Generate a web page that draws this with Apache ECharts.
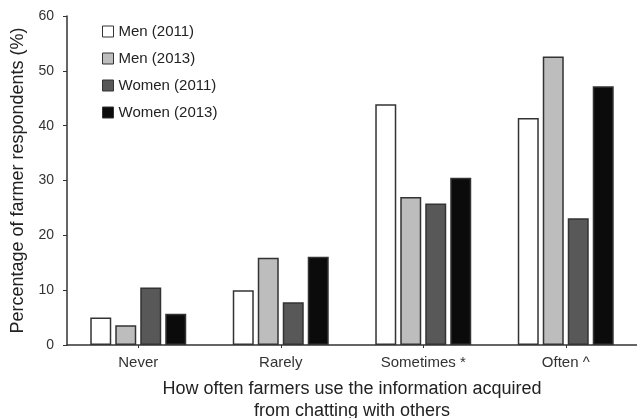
<!DOCTYPE html>
<html><head><meta charset="utf-8">
<script src="https://cdn.jsdelivr.net/npm/echarts@6/dist/echarts.min.js"></script>
<style>html,body{margin:0;padding:0;background:#fff}#c{width:637px;height:418px}</style>
</head><body><div id="c"></div>
<script>
const categories = ["Never", "Rarely", "Sometimes *", "Often ^"];
const men2011 = [5.0, 10.0, 43.9, 41.4];
const men2013 = [3.6, 15.9, 27.0, 52.6];
const women2011 = [10.5, 7.8, 25.8, 23.1];
const women2013 = [5.7, 16.1, 30.5, 47.2];
const yTicks = [0, 10, 20, 30, 40, 50, 60];

const seriesDefs = [
  {name: "Men (2011)", data: men2011, color: "#ffffff"},
  {name: "Men (2013)", data: men2013, color: "#bdbdbd"},
  {name: "Women (2011)", data: women2011, color: "#585858"},
  {name: "Women (2013)", data: women2013, color: "#0b0b0b"}
];
const font = "Liberation Sans, Arial, Helvetica, sans-serif";
const chart = echarts.init(document.getElementById('c'));
chart.setOption({
  animation: false,
  grid: {left: 67, right: 0, top: 16, bottom: 73, containLabel: false, outerBoundsMode: 'none'},
  legend: {
    orient: 'vertical', left: 102, top: 24, itemGap: 12, padding: 0,
    itemWidth: 11, itemHeight: 11, icon: 'rect',
    textStyle: {fontFamily: font, fontSize: 15, color: '#222', lineHeight: 15},
    data: seriesDefs.map(s => ({name: s.name, itemStyle: {color: s.color, borderColor: '#333', borderWidth: 1}}))
  },
  xAxis: {
    type: 'category', data: categories,
    axisLine: {lineStyle: {color: '#333', width: 1.5}},
    axisTick: {show: true, alignWithLabel: true, length: 3, lineStyle: {color: '#333'}},
    axisLabel: {fontFamily: font, fontSize: 15, color: '#333', margin: 10},
    name: 'How often farmers use the information acquired\nfrom chatting with others',
    nameLocation: 'middle', nameGap: 33,
    nameTextStyle: {fontFamily: font, fontSize: 18, color: '#222', lineHeight: 22}
  },
  yAxis: {
    type: 'value', min: 0, max: 60, interval: 10,
    axisLine: {show: true, lineStyle: {color: '#333', width: 1.5}},
    axisTick: {show: true, length: 4, lineStyle: {color: '#333'}},
    splitLine: {show: false},
    axisLabel: {fontFamily: font, fontSize: 14, color: '#333', margin: 13,
      formatter: v => yTicks.includes(v) ? String(v) : ''},
    name: 'Percentage of farmer respondents (%)',
    nameLocation: 'middle', nameGap: 39,
    nameTextStyle: {fontFamily: font, fontSize: 18, color: '#222'}
  },
  series: seriesDefs.map(s => ({
    name: s.name, type: 'bar', data: s.data,
    barWidth: 21, barGap: '19%',
    itemStyle: {color: s.color, borderColor: '#333', borderWidth: 1.5}
  }))
});
</script></body></html>
